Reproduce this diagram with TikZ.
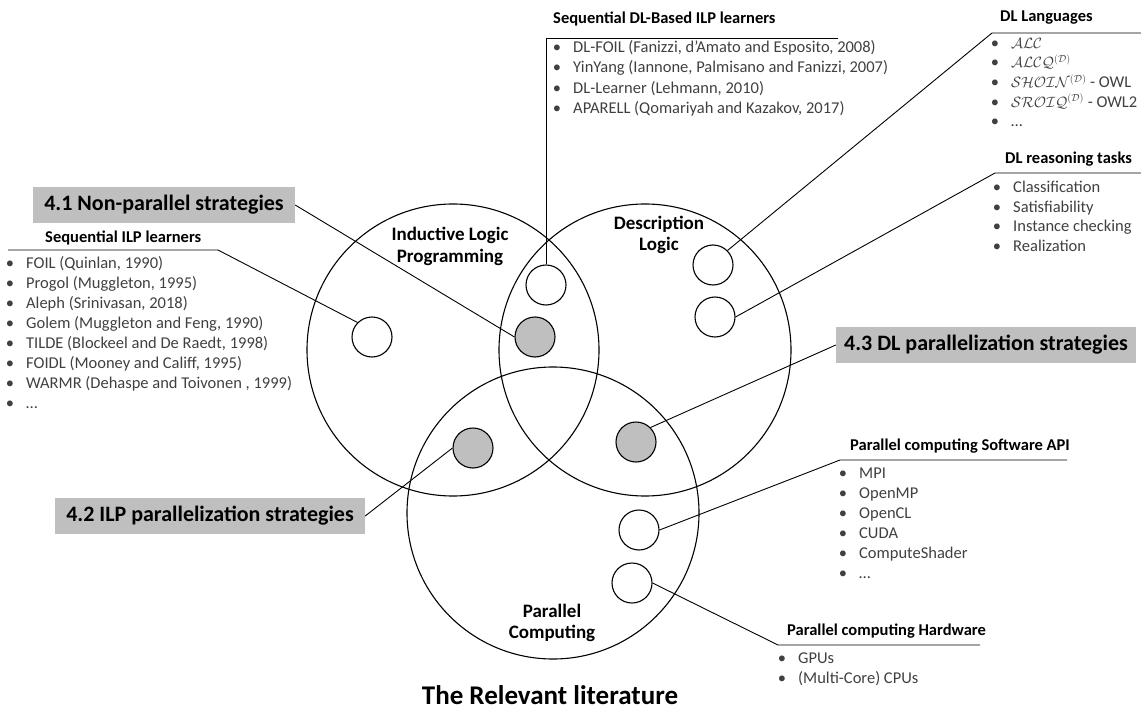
\documentclass[tikz,border=0pt]{standalone}
\usepackage{fontspec}
\usepackage{graphicx}
\setmainfont{Carlito}
\definecolor{shade}{HTML}{BFBFBF}
\definecolor{txt}{HTML}{404040}
\newcommand{\bitem}[1]{\llap{\textbullet\hspace{12pt}}#1}
\newcommand{\dlname}[1]{\scalebox{0.86}{$\mathcal{#1}$}}
\newcommand{\dlsup}{\scalebox{0.86}{$^{(\mathcal{D})}$}}
\begin{document}
\begin{tikzpicture}[x=1pt,y=-1pt,
  big/.style={circle,draw,line width=1.1pt,minimum size=292pt,inner sep=0},
  dot/.style={circle,draw,line width=1.1pt,minimum size=40pt,inner sep=0,fill=white},
  hot/.style={dot,fill=shade},
  lead/.style={line width=0.9pt},
  head/.style={anchor=base west,inner sep=0,font=\fontsize{16.5}{20}\bfseries\selectfont},
  item/.style={anchor=base west,inner sep=0,font=\fontsize{16.5}{20}\selectfont,text=txt},
  sect/.style={fill=shade,inner sep=0,font=\fontsize{22}{26}\bfseries\selectfont,minimum height=36pt},
  setlabel/.style={align=center,font=\fontsize{19}{21.5}\bfseries\selectfont}
]
\useasboundingbox (0,0) rectangle (1141,709);

% the three overlapping research areas
\node[big] (ilp) at (453,350) {};
\node[big] (dl)  at (645,350) {};
\node[big] (pc)  at (553,513) {};

\node[setlabel] (ilpl) at (450,246.5) {Inductive Logic\\Programming};
\node[setlabel] (dll)  at (659,235) {Description\\Logic};
\node[setlabel] (pcl)  at (552,623) {Parallel\\Computing};

% topic markers
\node[dot] (ilpW)  at (372,337) {};
\node[dot] (lensW) at (546,285) {};
\node[hot] (lensG) at (535,337) {};
\node[dot] (dlW1)  at (713,265) {};
\node[dot] (dlW2)  at (715,317) {};
\node[hot] (ipG)   at (473,448) {};
\node[hot] (dpG)   at (636,442) {};
\node[dot] (pcW1)  at (639,530) {};
\node[dot] (pcW2)  at (632,583) {};

% section boxes
\node[sect,minimum width=262pt] (s41) at (164,205) {4.1 Non-parallel strategies};
\node[sect,minimum width=310pt] (s42) at (210,516) {4.2 ILP parallelization strategies};
\node[sect,minimum width=300pt] (s43) at (986,345) {4.3 DL parallelization strategies};

% leader lines
\coordinate (a1) at (8,250);   \coordinate (a2) at (218,250);
\coordinate (b1) at (838,38);  \coordinate (b2) at (546,38);
\coordinate (c1) at (1141,33); \coordinate (c2) at (992,33);
\coordinate (d1) at (1141,173);\coordinate (d2) at (995,173);
\coordinate (e1) at (1067,460);\coordinate (e2) at (840,460);
\coordinate (f1) at (980,645); \coordinate (f2) at (778,645);

\draw[lead] (a1) -- (a2) -- (ilpW.north west);
\draw[lead] (b1) -- (b2) -- (lensW.north);
\draw[lead] (c1) -- (c2) -- (dlW1.north east);
\draw[lead] (d1) -- (d2) -- (dlW2.east);
\draw[lead] (e1) -- (e2) -- (pcW1.east);
\draw[lead] (f1) -- (f2) -- (pcW2.east);
\draw[lead] (s41.east) -- (lensG.west);
\draw[lead] (s42.east) -- (ipG.west);
\draw[lead] (s43.west) -- (dpG.north east);

% headings
\node[head] (h1) at (45,242.5)  {Sequential ILP learners};
\node[head] (h2) at (553,23.5)  {Sequential DL-Based ILP learners};
\node[head] (h3) at (1000,21.5) {DL Languages};
\node[head] (h4) at (1005,163.5){DL reasoning tasks};
\node[head] (h5) at (850,450.5) {Parallel computing Software API};
\node[head] (h6) at (787,635.5) {Parallel computing Hardware};

% item lists
\foreach \t [count=\i from 0] in {{FOIL (Quinlan, 1990)},{Progol (Muggleton, 1995)},
  {Aleph (Srinivasan, 2018)},{Golem (Muggleton and Feng, 1990)},
  {TILDE (Blockeel and De Raedt, 1998)},{FOIDL (Mooney and Califf, 1995)},
  {WARMR (Dehaspe and Toivonen , 1999)},{…}}
  \node[item] (la\i) at (26,268.5+20*\i) {\bitem{\t}};

\foreach \t [count=\i from 0] in {{DL-FOIL (Fanizzi, d’Amato and Esposito, 2008)},
  {YinYang (Iannone, Palmisano and Fanizzi, 2007)},{DL-Learner (Lehmann, 2010)},
  {APARELL (Qomariyah and Kazakov, 2017)}}
  \node[item] (lb\i) at (573,52.5+20.3*\i) {\bitem{\t}};

\foreach \t [count=\i from 0] in {{\dlname{ALC}},{\dlname{ALCQ}\dlsup},
  {\dlname{SHOIN}\dlsup{} - OWL},{\dlname{SROIQ}\dlsup{} - OWL2},{…}}
  \node[item] (lc\i) at (1011,48.5+19.5*\i) {\bitem{\t}};

\foreach \t [count=\i from 0] in {Classification,Satisfiability,Instance checking,Realization}
  \node[item] (ld\i) at (1013,192.5+19.7*\i) {\bitem{\t}};

\foreach \t [count=\i from 0] in {MPI,OpenMP,OpenCL,CUDA,ComputeShader,…}
  \node[item] (le\i) at (859,478.5+20*\i) {\bitem{\t}};

\foreach \t [count=\i from 0] in {GPUs,(Multi-Core) CPUs}
  \node[item] (lf\i) at (798,663.5+20*\i) {\bitem{\t}};

\node[font=\fontsize{27}{30}\bfseries\selectfont] (title) at (550,695) {The Relevant literature};
\end{tikzpicture}
\end{document}
